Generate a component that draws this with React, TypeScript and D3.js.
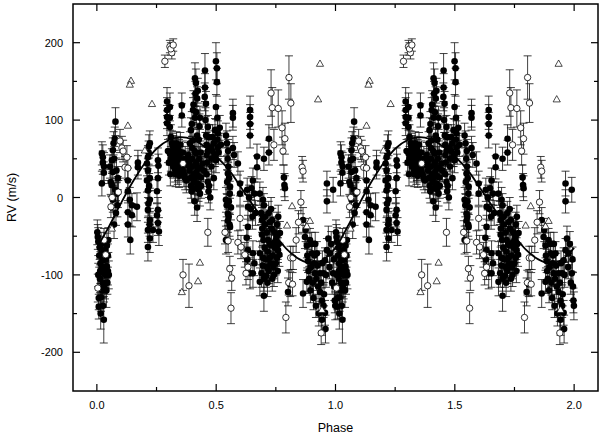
import React from 'react';
import * as d3 from 'd3';

// phase, rv (m/s), error (m/s) -- folded data, drawn twice (phase and phase + 1)
const filledPoints: [number, number, number][] = [
  [0.004, -51, 16], [0.006, -57, 18], [0.021, -72, 16], [0.025, -81, 18], [0.034, -68, 15], [0.042, -62, 16],
  [0.021, -91, 18], [0.029, -98, 20], [0.042, -89, 16], [0.013, -105, 18], [0.034, -111, 20], [0.017, -129, 18],
  [0.008, -141, 16], [0.029, -158, 30], [0.030, -115, 20], [0.008, -130, 15], [0.025, -111, 18], [0.038, -80, 16],
  [0.046, -95, 18], [0.015, -85, 15], [0.040, -120, 22], [0.050, -100, 18], [0.012, -65, 15], [0.046, -75, 15],
  [0.002, -45, 16], [0.010, -75, 15], [0.014, -95, 16], [0.018, -60, 15], [0.022, -120, 18], [0.026, -140, 16],
  [0.032, -90, 15], [0.036, -100, 16], [0.044, -110, 15], [0.048, -55, 16], [0.006, -100, 15], [0.016, -150, 20],
  [0.025, 52, 16], [0.025, 45, 15], [0.021, 18, 16], [0.029, 32, 14], [0.021, 57, 15], [0.030, 40, 18],
  [0.078, 98, 18], [0.075, 76, 15], [0.067, 61, 16], [0.063, 48, 15], [0.067, 33, 18], [0.063, 16, 15],
  [0.067, -3, 16], [0.084, 5, 15], [0.088, 25, 15], [0.080, -20, 16], [0.072, -35, 18],
  [0.055, 40, 15], [0.058, 20, 16], [0.070, 70, 15], [0.073, 50, 16], [0.077, 10, 15], [0.082, 35, 16], [0.086, -10, 15],
  [0.088, 7, 20], [0.130, 22, 16], [0.130, 8, 15], [0.138, -3, 16], [0.130, -19, 15], [0.130, -35, 16],
  [0.147, -10, 15], [0.168, -12, 18], [0.172, 45, 16], [0.172, 39, 15], [0.147, -23, 15], [0.140, -55, 18],
  [0.222, 70, 16], [0.218, 66, 15], [0.214, 52, 15], [0.210, 44, 16], [0.214, 35, 15], [0.222, 25, 16],
  [0.210, 22, 15], [0.214, 9, 16], [0.222, -3, 15], [0.214, -16, 16], [0.222, -29, 15], [0.214, -42, 16],
  [0.222, -53, 18], [0.214, -64, 18], [0.217, 58, 15], [0.219, 15, 16], [0.221, -35, 15], [0.216, -8, 16],
  [0.256, 48, 16], [0.258, 41, 15], [0.256, 25, 16], [0.252, 8, 15], [0.256, -16, 16], [0.252, -23, 15],
  [0.256, -33, 16], [0.235, -42, 16], [0.260, -44, 18],
  [0.294, 124, 18], [0.294, 113, 16], [0.294, 104, 15], [0.294, 96, 16],
  [0.298, 60, 15], [0.302, 45, 16], [0.308, 30, 15],
  [0.306, 117, 18], [0.306, 103, 16], [0.306, 91, 15], [0.310, 78, 16], [0.306, 57, 15], [0.310, 50, 16],
  [0.315, 70, 16], [0.320, 65, 15], [0.325, 60, 16], [0.330, 55, 15], [0.335, 50, 16], [0.340, 48, 15],
  [0.345, 45, 16], [0.350, 42, 15], [0.355, 40, 16], [0.360, 35, 15], [0.365, 30, 16], [0.370, 25, 15],
  [0.375, 22, 16], [0.320, 40, 15], [0.330, 30, 16], [0.340, 62, 15], [0.350, 68, 16], [0.360, 58, 15],
  [0.370, 50, 16], [0.380, 42, 15], [0.325, 45, 16], [0.345, 28, 15], [0.356, 119, 16], [0.356, 106, 15],
  [0.318, 68, 15], [0.322, 58, 16], [0.326, 52, 15], [0.331, 63, 16], [0.336, 44, 15], [0.341, 38, 16],
  [0.346, 55, 15], [0.328, 36, 16], [0.334, 70, 15], [0.339, 33, 16], [0.344, 60, 15], [0.349, 50, 16],
  [0.411, 154, 20], [0.415, 148, 18], [0.423, 138, 16], [0.413, 134, 16], [0.420, 128, 15], [0.403, 113, 16],
  [0.411, 103, 15], [0.394, 87, 16], [0.432, 103, 15], [0.403, 74, 16], [0.415, 57, 15], [0.400, 50, 16],
  [0.423, 39, 15], [0.411, 26, 16], [0.423, 18, 15], [0.432, 5, 16], [0.436, 26, 15], [0.444, 44, 16],
  [0.448, 35, 15], [0.400, 64, 15], [0.420, 80, 16], [0.430, 92, 16], [0.410, -5, 18], [0.420, -13, 18],
  [0.382, 55, 16], [0.385, 45, 15], [0.388, 35, 16], [0.391, 25, 15], [0.394, 15, 16], [0.397, 8, 15],
  [0.400, 40, 16], [0.405, 30, 15], [0.408, 20, 16], [0.412, 12, 15], [0.416, 45, 16], [0.418, 33, 15],
  [0.422, 28, 16], [0.426, 10, 15], [0.429, 50, 16], [0.433, 38, 15], [0.437, 15, 16], [0.390, 70, 15],
  [0.398, 95, 16], [0.405, 120, 18], [0.417, 110, 16], [0.427, 75, 15], [0.388, 48, 15], [0.410, 60, 16],
  [0.435, 58, 15],
  [0.453, 164, 22], [0.453, 142, 18], [0.457, 121, 16], [0.465, 91, 15], [0.470, 78, 16], [0.478, 65, 15],
  [0.485, 78, 16], [0.495, 87, 15], [0.499, 176, 24], [0.503, 167, 20], [0.503, 149, 18], [0.499, 117, 16],
  [0.505, 103, 15], [0.507, 83, 16], [0.507, 65, 15], [0.499, 48, 16],
  [0.460, 30, 16], [0.470, 15, 15], [0.480, 40, 16], [0.490, 25, 15], [0.475, 0, 16], [0.460, 55, 15],
  [0.455, 100, 16], [0.458, 80, 15], [0.460, 68, 16], [0.462, 45, 15], [0.465, 20, 16], [0.468, 8, 15],
  [0.452, 130, 18], [0.466, 60, 15],
  [0.485, 60, 15], [0.490, 70, 16], [0.495, 55, 15], [0.505, 75, 16], [0.510, 58, 15], [0.515, 90, 16],
  [0.520, 68, 15], [0.480, 50, 16],
  [0.570, 109, 18], [0.570, 103, 16], [0.541, 80, 16], [0.570, 64, 15], [0.575, 55, 16], [0.591, 44, 15],
  [0.549, 31, 16], [0.558, 14, 15], [0.541, -3, 16], [0.549, -21, 15], [0.558, -38, 16], [0.541, -55, 18],
  [0.549, -30, 15], [0.562, -13, 16], [0.600, 5, 15], [0.600, 18, 16],
  [0.545, 70, 16], [0.548, 50, 15], [0.551, 40, 16], [0.554, 25, 15], [0.557, 5, 16], [0.544, -10, 15],
  [0.552, -25, 16], [0.556, -35, 15], [0.546, 20, 16], [0.550, 60, 15], [0.553, -5, 16],
  [0.642, 113, 18], [0.642, 104, 16], [0.642, 80, 16], [0.642, 95, 15], [0.633, -12, 16], [0.633, -38, 15],
  [0.633, -68, 18], [0.630, -80, 16], [0.642, -98, 20], [0.628, -52, 16],
  [0.630, 10, 15], [0.638, 0, 16], [0.645, -15, 15], [0.652, -25, 16], [0.660, 5, 15], [0.665, -20, 16], [0.648, 12, 15],
  [0.671, 53, 16], [0.671, 39, 15], [0.654, 22, 16], [0.700, 50, 15], [0.721, 76, 18], [0.721, 58, 16],
  [0.784, 26, 16], [0.786, 16, 15], [0.788, 12, 16],
  [0.683, 5, 15], [0.696, -3, 16], [0.700, -10, 15], [0.692, -29, 16], [0.705, -35, 15], [0.725, -32, 16],
  [0.735, -29, 15], [0.755, -35, 16], [0.767, -46, 15], [0.692, -48, 16], [0.717, -55, 15], [0.730, -62, 16],
  [0.740, -59, 15], [0.759, -68, 16], [0.683, -72, 15], [0.696, -78, 16], [0.713, -90, 15], [0.725, -78, 16],
  [0.740, -90, 15], [0.755, -78, 16], [0.765, -74, 15], [0.690, -98, 18], [0.700, -105, 16], [0.710, -101, 15],
  [0.683, -109, 18], [0.700, -127, 20], [0.654, -72, 16], [0.654, -98, 18], [0.660, -85, 16], [0.745, -45, 15],
  [0.720, -20, 15], [0.750, -55, 16],
  [0.688, -20, 15], [0.693, -40, 16], [0.698, -55, 15], [0.703, -65, 16], [0.708, -80, 15], [0.712, -45, 16],
  [0.716, -70, 15], [0.720, -95, 16], [0.724, -60, 15], [0.728, -85, 16], [0.732, -40, 15], [0.737, -75, 16],
  [0.742, -100, 15], [0.746, -65, 16], [0.750, -85, 15], [0.754, -50, 16], [0.758, -95, 15], [0.762, -60, 16],
  [0.705, -25, 15], [0.715, -110, 18], [0.735, -105, 16], [0.695, -88, 15], [0.730, -15, 15], [0.760, -25, 15],
  [0.801, -122, 18], [0.810, -112, 16],
  [0.864, -29, 16], [0.872, -51, 15], [0.880, -62, 16], [0.893, -55, 15], [0.902, -72, 16], [0.910, -85, 15],
  [0.914, -98, 16], [0.920, -105, 15], [0.927, -115, 16], [0.935, -122, 15], [0.943, -133, 16], [0.950, -140, 15],
  [0.956, -149, 16], [0.943, -158, 20], [0.885, -82, 15], [0.890, -105, 16], [0.922, -72, 15], [0.956, -81, 16],
  [0.964, -68, 15], [0.970, -53, 16], [0.977, -72, 15], [0.990, -98, 16], [0.995, -115, 18], [0.997, -133, 16],
  [0.999, -140, 18], [0.950, -98, 15], [0.935, -98, 16], [0.880, -109, 15], [0.864, -124, 18],
  [0.875, -42, 15], [0.882, -75, 16], [0.887, -95, 15], [0.895, -120, 16], [0.900, -60, 15], [0.905, -110, 16],
  [0.908, -130, 15], [0.912, -75, 16], [0.918, -140, 15], [0.925, -88, 16], [0.930, -150, 16], [0.940, -110, 15],
  [0.945, -85, 16], [0.952, -125, 15], [0.958, -170, 18], [0.960, -100, 16], [0.897, -90, 15], [0.915, -60, 15],
  [0.975, -90, 15], [0.982, -60, 16], [0.986, -110, 15], [0.993, -80, 16],
  [0.964, 18, 16], [0.964, -5, 15], [0.990, 10, 16],
];

const openPoints: [number, number, number][] = [
  [0.004, -117, 18], [0.030, -55, 15], [0.037, -74, 15], [0.097, 73, 15], [0.105, 64, 15], [0.110, 60, 14],
  [0.126, 52, 15], [0.118, 39, 14], [0.130, 38, 15], [0.090, 7, 15], [0.064, 0, 15], [0.059, -12, 14],
  [0.285, 176, 8], [0.306, 195, 8], [0.314, 187, 8], [0.310, 192, 8], [0.320, 197, 8],
  [0.361, 44, 15], [0.361, -100, 20], [0.386, -114, 28], [0.465, -45, 18],
  [0.537, -45, 15], [0.550, -56, 15], [0.557, -92, 16], [0.565, -104, 16], [0.562, -143, 20],
  [0.591, -58, 15], [0.604, -64, 15], [0.620, -74, 16], [0.625, -98, 15], [0.600, -27, 15], [0.633, -90, 16],
  [0.730, 135, 30], [0.735, 116, 26], [0.760, 115, 24], [0.776, 90, 22], [0.788, 76, 20], [0.742, 68, 20],
  [0.780, 60, 18], [0.805, 155, 28], [0.813, 122, 25], [0.860, 39, 14], [0.864, 34, 14],
  [0.855, -6, 15], [0.845, -32, 15], [0.835, -55, 16], [0.812, -78, 15], [0.822, -78, 15],
  [0.804, -110, 16], [0.820, -112, 15], [0.792, -155, 20], [0.940, -175, 15],
];

// phase, rv (m/s)
const trianglePoints: [number, number][] = [
  [0.143, 151], [0.138, 146], [0.130, 93], [0.231, 121], [0.201, 61], [0.063, -40],
  [0.356, -122], [0.432, -84], [0.424, -108], [0.935, 173], [0.927, 127],
  [0.818, -11], [0.797, -36], [0.880, -37], [0.893, -30], [0.943, -145],
];

// orbit model: phase, rv (m/s)
const modelPhase = [0, 0.05, 0.1, 0.15, 0.2, 0.25, 0.3, 0.35, 0.4, 0.45, 0.5, 0.55, 0.6, 0.65, 0.7, 0.75, 0.8, 0.85, 0.9, 0.95, 1.0];
const modelRV = [-65, -38, -8, 20, 44, 63, 74, 78, 75, 66, 53, 37, 15, -8, -30, -50, -68, -80, -85, -80, -65];

const xTicks = [0, 0.5, 1, 1.5, 2];
const xTickLabels = ['0.0', '0.5', '1.0', '1.5', '2.0'];
const xMinor = [0.25, 0.75, 1.25, 1.75];
const yTicks = [-200, -100, 0, 100, 200];
const yTickLabels = ['-200', '-100', '0', '100', '200'];
const yMinor = [-150, -50, 50, 150];

const W = 600;
const H = 436;
const left = 73, right = 598, top = 4, bottom = 391;
const FONT = 'Liberation Sans, Arial, Helvetica, sans-serif';

const x = d3.scaleLinear().domain([-0.1, 2.1]).range([left, right]);
const y = d3.scaleLinear().domain([-250, 250]).range([bottom, top]);

const cycles = [0, 1];

const ErrorBar: React.FC<{ p: number; v: number; e: number }> = ({ p, v, e }) => {
  const cx = x(p);
  const y1 = y(v + e);
  const y2 = y(v - e);
  return (
    <g stroke="#111" strokeWidth={0.8}>
      <line x1={cx} x2={cx} y1={y1} y2={y2} />
      <line x1={cx - 4} x2={cx + 4} y1={y1} y2={y1} />
      <line x1={cx - 4} x2={cx + 4} y1={y2} y2={y2} />
    </g>
  );
};

export default function App() {
  const line = d3.line<[number, number]>()
    .x(d => x(d[0]))
    .y(d => y(d[1]))
    .curve(d3.curveCatmullRom);

  const modelPts: [number, number][] = [];
  cycles.forEach(c => {
    modelPhase.forEach((p, i) => {
      if (c === 1 && i === 0) return;
      modelPts.push([p + c, modelRV[i]]);
    });
  });

  const triPath = (cx: number, cy: number) => {
    const s = 3.6;
    return `M${cx},${cy - s}L${cx + s},${cy + s * 0.75}L${cx - s},${cy + s * 0.75}Z`;
  };

  return (
    <div style={{ position: 'absolute', left: 0, top: 0 }}>
      <svg width={W} height={H} style={{ display: 'block', background: '#fff' }}>
        <defs>
          <clipPath id="plot">
            <rect x={left} y={top} width={right - left} height={bottom - top} />
          </clipPath>
        </defs>

        <g clipPath="url(#plot)">
          {/* error bars */}
          {cycles.map(c =>
            filledPoints.map((d, i) => <ErrorBar key={`fe${c}-${i}`} p={d[0] + c} v={d[1]} e={d[2]} />)
          )}
          {cycles.map(c =>
            openPoints.map((d, i) => <ErrorBar key={`oe${c}-${i}`} p={d[0] + c} v={d[1]} e={d[2]} />)
          )}

          {/* filled circles */}
          {cycles.map(c =>
            filledPoints.map((d, i) => (
              <circle key={`f${c}-${i}`} cx={x(d[0] + c)} cy={y(d[1])} r={3.3} fill="#000" />
            ))
          )}

          {/* open circles */}
          {cycles.map(c =>
            openPoints.map((d, i) => (
              <circle key={`o${c}-${i}`} cx={x(d[0] + c)} cy={y(d[1])} r={3.2} fill="#fff" stroke="#000" strokeWidth={0.8} />
            ))
          )}

          {/* triangles */}
          {cycles.map(c =>
            trianglePoints.map((d, i) => (
              <path key={`t${c}-${i}`} d={triPath(x(d[0] + c), y(d[1]))} fill="#fff" stroke="#000" strokeWidth={0.7} />
            ))
          )}

          {/* model curve */}
          <path d={line(modelPts) || ''} fill="none" stroke="#000" strokeWidth={1.8} />
        </g>

        {/* frame */}
        <rect x={left} y={top} width={right - left} height={bottom - top} fill="none" stroke="#000" strokeWidth={1.5} />

        {/* ticks, inward on all sides */}
        <g stroke="#000" strokeWidth={1.2}>
          {xTicks.map(t => (
            <g key={`xt${t}`}>
              <line x1={x(t)} x2={x(t)} y1={bottom} y2={bottom - 7} />
              <line x1={x(t)} x2={x(t)} y1={top} y2={top + 7} />
            </g>
          ))}
          {xMinor.map(t => (
            <g key={`xm${t}`}>
              <line x1={x(t)} x2={x(t)} y1={bottom} y2={bottom - 4} />
              <line x1={x(t)} x2={x(t)} y1={top} y2={top + 4} />
            </g>
          ))}
          {yTicks.map(t => (
            <g key={`yt${t}`}>
              <line x1={left} x2={left + 7} y1={y(t)} y2={y(t)} />
              <line x1={right} x2={right - 7} y1={y(t)} y2={y(t)} />
            </g>
          ))}
          {yMinor.map(t => (
            <g key={`ym${t}`}>
              <line x1={left} x2={left + 4} y1={y(t)} y2={y(t)} />
              <line x1={right} x2={right - 4} y1={y(t)} y2={y(t)} />
            </g>
          ))}
        </g>

        {/* tick labels */}
        <g fontFamily={FONT} fontSize={11} fill="#000">
          {xTicks.map((t, i) => (
            <text key={`xl${t}`} x={x(t)} y={409} textAnchor="middle">{xTickLabels[i]}</text>
          ))}
          {yTicks.map((t, i) => (
            <text key={`yl${t}`} x={63} y={y(t) + 4} textAnchor="end">{yTickLabels[i]}</text>
          ))}
        </g>

        {/* axis titles */}
        <text x={(left + right) / 2} y={432} textAnchor="middle" fontFamily={FONT} fontSize={12.5}>Phase</text>
        <text transform={`translate(16,${(top + bottom) / 2}) rotate(-90)`} textAnchor="middle" fontFamily={FONT} fontSize={12.5}>RV (m/s)</text>
      </svg>
    </div>
  );
}
